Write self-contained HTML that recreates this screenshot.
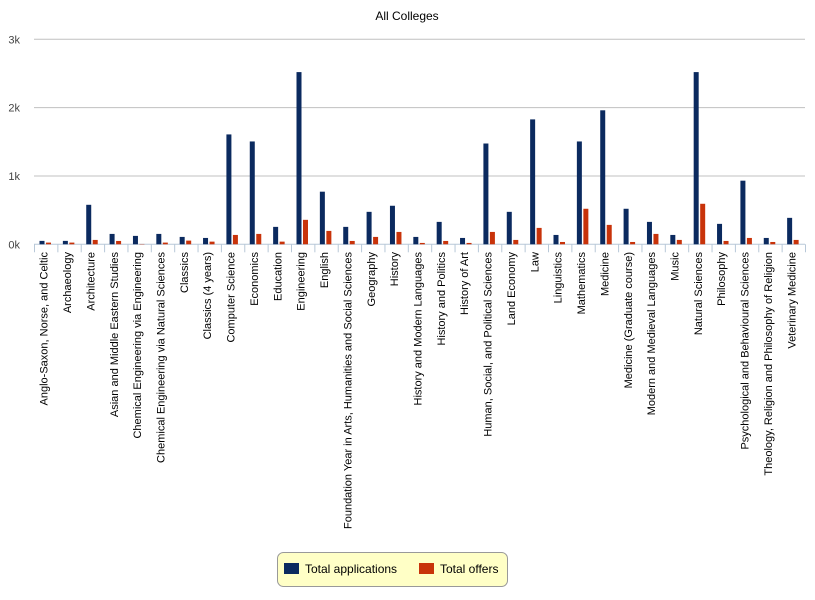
<!DOCTYPE html>
<html><head><meta charset="utf-8"><style>
body{margin:0;background:#fff;font-family:"Liberation Sans",sans-serif;}
svg text{font-family:"Liberation Sans",sans-serif;}
</style></head><body>
<svg id="chart" width="815" height="595">
<text x="407" y="20" font-size="12" text-anchor="middle" fill="#000">All Colleges</text>
<g id="grid"></g><g id="bars"></g><g id="xlabels"></g>
<g>
<rect x="277.5" y="552.5" width="230" height="34" rx="6" fill="#ffffc6" stroke="#999"/>
<rect x="284" y="563" width="15" height="11" fill="#0b2a5f"/>
<text x="305" y="573" font-size="12" fill="#000">Total applications</text>
<rect x="419" y="563" width="15" height="11" fill="#c8330a"/>
<text x="440" y="573" font-size="12" fill="#000">Total offers</text>
</g>
</svg>
<script>
const categories=["Anglo-Saxon, Norse, and Celtic","Archaeology","Architecture","Asian and Middle Eastern Studies","Chemical Engineering via Engineering","Chemical Engineering via Natural Sciences","Classics","Classics (4 years)","Computer Science","Economics","Education","Engineering","English","Foundation Year in Arts, Humanities and Social Sciences","Geography","History","History and Modern Languages","History and Politics","History of Art","Human, Social, and Political Sciences","Land Economy","Law","Linguistics","Mathematics","Medicine","Medicine (Graduate course)","Modern and Medieval Languages","Music","Natural Sciences","Philosophy","Psychological and Behavioural Sciences","Theology, Religion and Philosophy of Religion","Veterinary Medicine"];
const applications=[50,50,578,152,123,152,108,93,1608,1505,255,2520,770,255,475,564,108,328,93,1475,475,1828,137,1505,1961,520,328,137,2520,299,931,93,387];
const offers=[25,25,64,49,5,25,54,39,137,152,39,358,196,49,108,181,20,49,20,181,64,240,34,520,284,34,152,64,593,49,93,34,64];
const yTicks=[0,1000,2000,3000];
const yTickLabels=["0k","1k","2k","3k"];
const NS="http://www.w3.org/2000/svg";
const L=34,R=805,T=39.3,B=244.3,YMAX=3000;
const y=v=>B-(v/YMAX)*(B-T);
const bw=(R-L)/categories.length;
const x=i=>L+i*bw;
function mk(tag,attrs,parent){const e=document.createElementNS(NS,tag);for(const k in attrs)e.setAttribute(k,attrs[k]);parent.appendChild(e);return e;}
const grid=document.getElementById('grid');
yTicks.forEach((t,i)=>{
 if(t>0){const g=mk('line',{x1:L,x2:R,y1:y(t),y2:y(t),stroke:'#c0c0c0','stroke-width':1},grid);
 
 }
 const tx=mk('text',{x:20,y:y(t)+4,'font-size':11,'text-anchor':'end',fill:'#444'},grid);
 tx.textContent=yTickLabels[i];
 
 
});
const ax=mk('line',{x1:L,x2:R,y1:B,y2:B,stroke:'#b8c8d8','stroke-width':1},grid);


for(let i=0;i<=categories.length;i++){
 const tk=mk('line',{x1:x(i)+0.5,x2:x(i)+0.5,y1:B,y2:B+8,stroke:'#b8c8d8','stroke-width':1},grid);
 
 
}
const bars=document.getElementById('bars'),xl=document.getElementById('xlabels');
categories.forEach((c,i)=>{
 const a=mk('rect',{x:x(i)+5.5,y:y(applications[i]),width:5,height:B-y(applications[i]),fill:'#0b2a5f'},bars);
 
 
 const o=mk('rect',{x:x(i)+12,y:y(offers[i]),width:5,height:B-y(offers[i]),fill:'#c8330a'},bars);
 
 
 const cx=x(i)+bw/2+2, ty=252;
 const t=mk('text',{x:cx,y:ty,'font-size':11,'text-anchor':'end',fill:'#000',transform:`rotate(-90 ${cx} ${ty})`},xl);
 t.textContent=c;
 
 
});
</script>
</body></html>
